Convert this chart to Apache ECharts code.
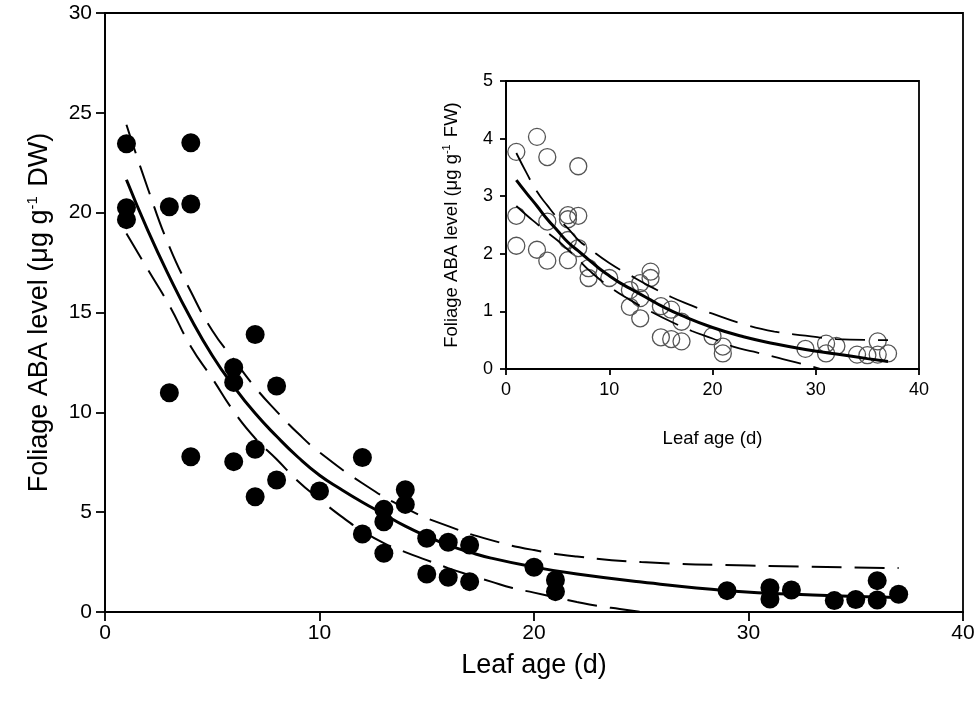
<!DOCTYPE html>
<html>
<head>
<meta charset="utf-8">
<script src="https://cdn.jsdelivr.net/npm/echarts@6/dist/echarts.min.js"></script>
<style>
html,body{margin:0;padding:0;background:#fff;}
#chart{width:980px;height:716px;}
</style>
</head>
<body>
<div id="chart"></div>
<script>
// ---- Main panel: foliage ABA (µg g-1 DW) ----
const mainAges = [1,1,1,3,3,4,4,4,6,6,6,7,7,7,8,8,10,12,12,13,13,13,14,14,15,15,16,16,17,17,20,21,21,29,31,31,32,34,35,36,36,37];
const mainABA  = [23.45,20.25,19.65,20.3,10.98,23.5,20.43,7.78,12.25,11.5,7.53,13.9,8.15,5.77,11.32,6.61,6.06,7.74,3.91,5.14,4.52,2.94,6.12,5.39,3.69,1.9,3.49,1.74,3.36,1.52,2.24,1.6,1.02,1.07,1.22,0.65,1.1,0.57,0.63,1.57,0.6,0.89];

// fitted curve and confidence band
const mainFitAges = [1,2,3,4,5,6,7,8,9,10,11,12,13,14,15,16,17,18,20,22,25,29,33,37];
const mainFit     = [21.65,19.1,16.8,14.7,12.85,11.3,9.95,8.8,7.75,6.85,6.15,5.5,4.9,4.3,3.8,3.35,3.0,2.7,2.25,1.9,1.5,1.07,0.85,0.72];
const mainUpAges  = [1,2,3,4,5,6,7,8,9,10,12,14,16,18,20,22,25,30,37];
const mainUpper   = [24.4,21.2,18.3,16.05,14.1,12.65,11.25,10.05,8.95,8.0,6.45,5.2,4.3,3.6,3.1,2.78,2.5,2.33,2.2];
const mainLoAges  = [1,2,3,4,5,6,7,8,9,10,11,12,13,14,15,16,17,18,19,20,21,22,23,24,25];
const mainLower   = [18.96,17.15,15.35,13.3,11.7,10.05,8.7,7.65,6.55,5.65,4.8,4.05,3.45,3.0,2.6,2.2,1.85,1.52,1.2,0.97,0.73,0.5,0.3,0.15,0.0];

// ---- Inset: foliage ABA (µg g-1 FW) ----
const insetAges = [1,1,1,3,3,4,4,4,6,6,6,6,7,7,7,8,8,10,12,12,13,13,13,14,14,15,15,16,16,17,17,20,21,21,29,31,31,32,34,35,36,36,37];
const insetFW   = [3.77,2.66,2.14,4.03,2.07,3.68,2.56,1.88,2.67,2.6,2.24,1.89,3.52,2.66,2.1,1.75,1.58,1.58,1.37,1.08,1.49,1.23,0.88,1.69,1.58,1.09,0.55,1.03,0.52,0.82,0.48,0.57,0.39,0.27,0.35,0.44,0.27,0.4,0.25,0.24,0.48,0.25,0.27];
const insetFitAges = [1,2,3,4,5,6,7,8,9,10,11,12,13,14,15,17,20,23,26,29,32,35,37];
const insetFit     = [3.28,3.05,2.83,2.6,2.4,2.2,2.05,1.9,1.75,1.62,1.5,1.4,1.3,1.2,1.1,0.93,0.72,0.56,0.44,0.34,0.26,0.18,0.13];
const insetUpAges  = [1,2,3,4,5,6,7,8,10,12,14,16,18,20,23,26,29,32,37];
const insetUpper   = [3.75,3.4,3.08,2.84,2.62,2.44,2.24,2.1,1.84,1.63,1.43,1.25,1.1,0.96,0.78,0.65,0.58,0.52,0.5];
const insetLoAges  = [1,2,3,4,5,6,7,8,10,12,14,16,18,20,22,24,26,28,30.5];
const insetLower   = [2.83,2.67,2.52,2.37,2.23,2.07,1.9,1.72,1.43,1.2,1.0,0.82,0.66,0.53,0.39,0.3,0.21,0.12,0.0];

// tick settings
const mainXTicks = {min:0, max:40, interval:10};
const mainYTicks = {min:0, max:30, interval:5};
const insetXTicks = {min:0, max:40, interval:10};
const insetYTicks = {min:0, max:5, interval:1};

const zip = (a, b) => a.map((v, i) => [v, b[i]]);
const FONT = '"Liberation Sans", Arial, sans-serif';

function axisBase(fs, tickLen, margin, lw) {
  return {
    axisLine: {show: true, onZero: false, lineStyle: {color: '#000', width: lw}},
    axisTick: {show: true, inside: false, length: tickLen, lineStyle: {color: '#000', width: lw}},
    axisLabel: {color: '#000', fontSize: fs, fontFamily: FONT, margin: margin},
    splitLine: {show: false}
  };
}

const chart = echarts.init(document.getElementById('chart'), null, {renderer: 'canvas'});

const lineSeries = (name, xi, yi, ages, vals, width, dash) => ({
  name: name, type: 'line', xAxisIndex: xi, yAxisIndex: yi,
  data: zip(ages, vals), showSymbol: false, symbol: 'none',
  smooth: 0.5, clip: true, z: 5,
  lineStyle: {color: '#000', width: width, type: dash || 'solid'},
  silent: true
});

chart.setOption({
  animation: false,
  backgroundColor: '#fff',
  grid: [
    {left: 105, right: 17, top: 13, bottom: 104, show: true, borderColor: '#000', borderWidth: 1.8, backgroundColor: 'transparent'},
    {left: 506, right: 61, top: 81, bottom: 347, show: true, borderColor: '#000', borderWidth: 1.8, backgroundColor: '#fff'}
  ],
  xAxis: [
    Object.assign(axisBase(21, 9, 11, 1.8), {
      type: 'value', gridIndex: 0, min: mainXTicks.min, max: mainXTicks.max, interval: mainXTicks.interval,
      name: 'Leaf age (d)', nameLocation: 'middle', nameGap: 40,
      nameTextStyle: {color: '#000', fontSize: 27, fontFamily: FONT}
    }),
    Object.assign(axisBase(18, 6, 12, 1.8), {
      type: 'value', gridIndex: 1, min: insetXTicks.min, max: insetXTicks.max, interval: insetXTicks.interval,
      name: 'Leaf age (d)', nameLocation: 'middle', nameGap: 60,
      nameTextStyle: {color: '#000', fontSize: 18.5, fontFamily: FONT}
    })
  ],
  yAxis: [
    Object.assign(axisBase(21, 9, 13, 1.8), {
      type: 'value', gridIndex: 0, min: mainYTicks.min, max: mainYTicks.max, interval: mainYTicks.interval,
      name: 'Foliage ABA level (μg g{sup|-1} DW)', nameLocation: 'middle', nameGap: 50, nameRotate: 90,
      nameTextStyle: {color: '#000', fontSize: 27, fontFamily: FONT, lineHeight: 30,
        rich: {sup: {fontSize: 15, fontFamily: FONT, color: '#000', verticalAlign: 'top', lineHeight: 30, padding: [0, 2, 0, 0]}}}
    }),
    Object.assign(axisBase(18, 6, 13, 1.8), {
      type: 'value', gridIndex: 1, min: insetYTicks.min, max: insetYTicks.max, interval: insetYTicks.interval,
      name: 'Foliage ABA level (μg g{sup|-1} FW)', nameLocation: 'middle', nameGap: 44, nameRotate: 90,
      nameTextStyle: {color: '#000', fontSize: 18.5, fontFamily: FONT, lineHeight: 21,
        rich: {sup: {fontSize: 11, fontFamily: FONT, color: '#000', verticalAlign: 'top', lineHeight: 21, padding: [0, 2, 0, 0]}}}
    })
  ],
  series: [
    {
      name: 'DW', type: 'scatter', xAxisIndex: 0, yAxisIndex: 0,
      data: zip(mainAges, mainABA), symbol: 'circle', symbolSize: 19,
      itemStyle: {color: '#000', opacity: 1}, z: 3
    },
    lineSeries('DW fit', 0, 0, mainFitAges, mainFit, 3),
    lineSeries('DW upper', 0, 0, mainUpAges, mainUpper, 2, [30, 13]),
    lineSeries('DW lower', 0, 0, mainLoAges, mainLower, 2, [30, 13]),
    {
      name: 'FW', type: 'scatter', xAxisIndex: 1, yAxisIndex: 1,
      data: zip(insetAges, insetFW), symbol: 'circle', symbolSize: 17,
      itemStyle: {color: 'rgba(255,255,255,0)', borderColor: '#555', borderWidth: 1.3, opacity: 1}, z: 3
    },
    lineSeries('FW fit', 1, 1, insetFitAges, insetFit, 3),
    lineSeries('FW upper', 1, 1, insetUpAges, insetUpper, 1.8, [30, 13]),
    lineSeries('FW lower', 1, 1, insetLoAges, insetLower, 1.8, [30, 13])
  ]
});
</script>
</body>
</html>
